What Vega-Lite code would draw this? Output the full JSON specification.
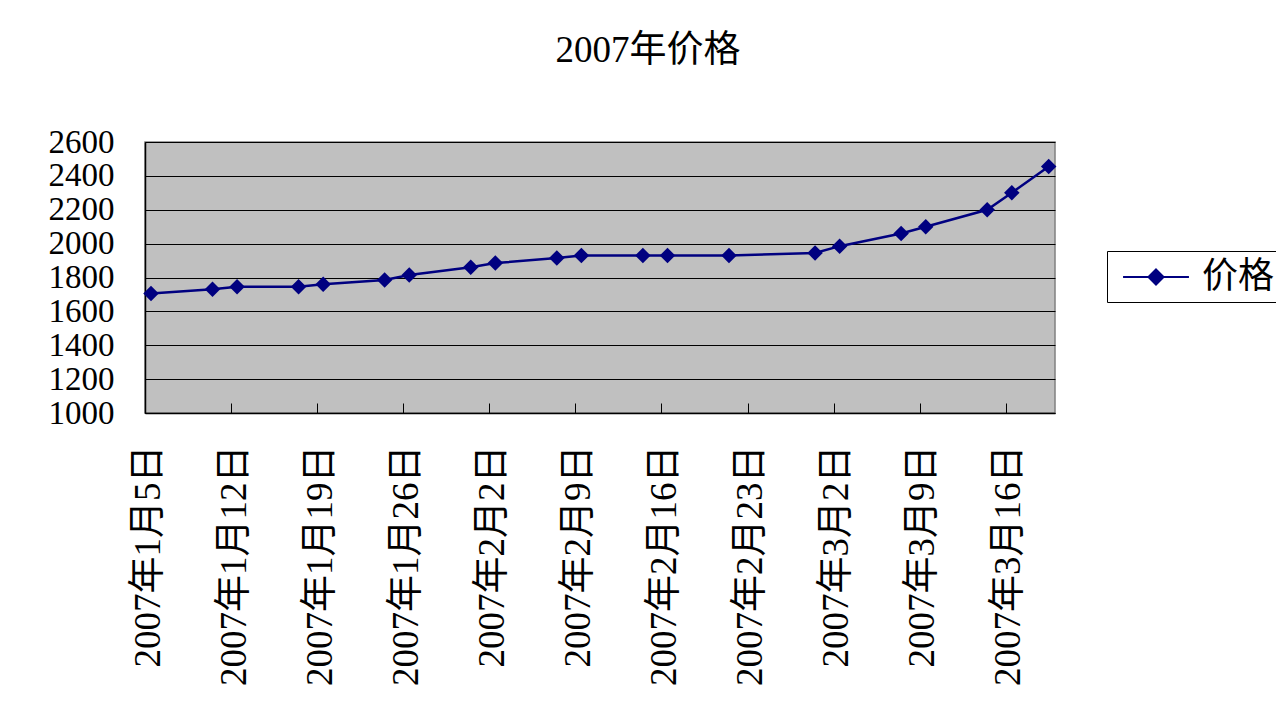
{
  "$schema": "https://vega.github.io/schema/vega-lite/v6.json",
  "autosize": "none",
  "width": 910,
  "height": 271,
  "padding": {"left": 145, "top": 142, "right": 221, "bottom": 308},
  "background": "white",
  "title": {
    "text": "2007年价格",
    "anchor": "middle",
    "frame": "group",
    "dx": 48,
    "offset": 56,
    "fontSize": 37,
    "fontWeight": "normal",
    "font": "Liberation Serif, Noto Sans CJK SC",
    "color": "black"
  },
  "config": {
    "view": {"fill": "#C0C0C0", "stroke": "#808080", "strokeWidth": 1.5},
    "font": "Liberation Serif, Noto Sans CJK SC"
  },
  "data": {
    "values": [
      {"date": "2007-01-05", "price": 1705},
      {"date": "2007-01-10", "price": 1730},
      {"date": "2007-01-12", "price": 1745},
      {"date": "2007-01-17", "price": 1745},
      {"date": "2007-01-19", "price": 1760},
      {"date": "2007-01-24", "price": 1785},
      {"date": "2007-01-26", "price": 1815},
      {"date": "2007-01-31", "price": 1860},
      {"date": "2007-02-02", "price": 1885},
      {"date": "2007-02-07", "price": 1915},
      {"date": "2007-02-09", "price": 1930},
      {"date": "2007-02-14", "price": 1930},
      {"date": "2007-02-16", "price": 1930},
      {"date": "2007-02-21", "price": 1930},
      {"date": "2007-02-28", "price": 1945},
      {"date": "2007-03-02", "price": 1985},
      {"date": "2007-03-07", "price": 2060},
      {"date": "2007-03-09", "price": 2100},
      {"date": "2007-03-14", "price": 2200},
      {"date": "2007-03-16", "price": 2300},
      {"date": "2007-03-19", "price": 2455}
    ]
  },
  "encoding": {
    "x": {
      "field": "date",
      "type": "temporal",
      "scale": {
        "type": "utc",
        "domain": [
          {"year": 2007, "month": 1, "date": 5, "utc": true},
          {"year": 2007, "month": 3, "date": 20, "utc": true}
        ]
      },
      "axis": {
        "title": null,
        "values": [
          {"year": 2007, "month": 1, "date": 5, "utc": true},
          {"year": 2007, "month": 1, "date": 12, "utc": true},
          {"year": 2007, "month": 1, "date": 19, "utc": true},
          {"year": 2007, "month": 1, "date": 26, "utc": true},
          {"year": 2007, "month": 2, "date": 2, "utc": true},
          {"year": 2007, "month": 2, "date": 9, "utc": true},
          {"year": 2007, "month": 2, "date": 16, "utc": true},
          {"year": 2007, "month": 2, "date": 23, "utc": true},
          {"year": 2007, "month": 3, "date": 2, "utc": true},
          {"year": 2007, "month": 3, "date": 9, "utc": true},
          {"year": 2007, "month": 3, "date": 16, "utc": true}
        ],
        "format": "%Y年%-m月%-d日",
        "labelAngle": 270,
        "labelAlign": "right",
        "labelBaseline": "middle",
        "labelFontSize": 37,
        "labelColor": "black",
        "labelPadding": 42,
        "labelOffset": 3,
        "labelLimit": 400,
        "labelOverlap": false,
        "labelFlush": false,
        "grid": false,
        "ticks": true,
        "tickSize": -10,
        "tickColor": "black",
        "tickWidth": 1,
        "domainColor": "black",
        "domainWidth": 1.5
      }
    },
    "y": {
      "field": "price",
      "type": "quantitative",
      "scale": {"domain": [1000, 2600], "nice": false, "zero": false},
      "axis": {
        "title": null,
        "values": [1000, 1200, 1400, 1600, 1800, 2000, 2200, 2400, 2600],
        "format": "d",
        "labelFontSize": 33,
        "labelColor": "black",
        "labelPadding": 41,
        "labelOverlap": false,
        "labelFlush": false,
        "grid": true,
        "gridColor": "black",
        "gridWidth": 1,
        "ticks": true,
        "tickSize": -10,
        "tickColor": "black",
        "domainColor": "black",
        "domainWidth": 1.5
      }
    },
    "color": {
      "datum": "价格",
      "scale": {"range": ["#000080"]},
      "legend": {
        "title": null,
        "orient": "none",
        "legendX": 962,
        "legendY": 109,
        "labelFontSize": 36,
        "labelColor": "black",
        "labelFont": "Liberation Serif, Noto Sans CJK SC",
        "symbolType": "M-1.83,0H1.83M0,-0.42L0.42,0L0,0.42L-0.42,0Z",
        "symbolSize": 1296,
        "symbolStrokeWidth": 2,
        "symbolOffset": 23,
        "labelOffset": 27,
        "padding": 7,
        "strokeColor": "black",
        "fillColor": "white",
        "encode": {
          "symbols": {"update": {"fill": {"value": "#000080"}, "stroke": {"value": "#000080"}, "strokeWidth": {"value": 2}, "opacity": {"value": 1}}}
        }
      }
    }
  },
  "layer": [
    {"mark": {"type": "line", "strokeWidth": 2.5, "xOffset": 6}},
    {"mark": {"type": "point", "shape": "diamond", "filled": true, "size": 240, "opacity": 1, "xOffset": 6}}
  ]
}
